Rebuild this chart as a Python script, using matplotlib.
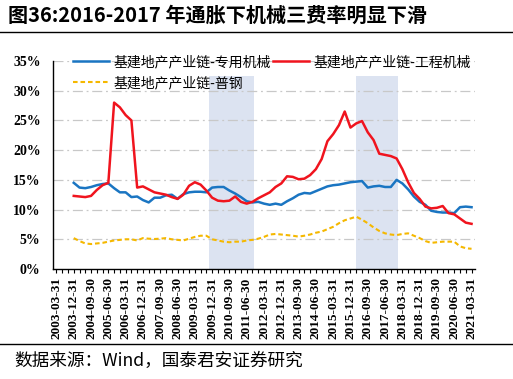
import matplotlib
matplotlib.use("Agg")
import matplotlib.pyplot as plt
import numpy as np
import pandas as pd

plt.rcParams['font.family'] = ['Noto Sans CJK SC', 'DejaVu Sans']

# quarterly dates 2003-03-31 .. 2021-03-31
dates = pd.date_range("2003-03-31", "2021-03-31", freq="QE")
tick_labels = [d.strftime("%Y-%m-%d") for d in dates[::3]]

start = 3  # series start at 2003-12-31
special_mach = [14.5, 13.7, 13.6, 13.8, 14.1, 14.3, 14.4, 13.6, 12.9, 12.9, 12.1, 12.2, 11.6, 11.2,
                12.0, 12.0, 12.4, 12.5, 11.8, 12.6, 12.9, 13.0, 13.0, 12.9, 13.7, 13.8, 13.8, 13.2,
                12.7, 12.1, 11.4, 11.2, 11.3, 11.0, 10.8, 11.0, 10.8, 11.4, 11.9, 12.5, 12.8, 12.7,
                13.1, 13.5, 13.9, 14.1, 14.2, 14.4, 14.6, 14.7, 14.8, 13.7, 13.9, 14.0, 13.8, 13.8,
                15.0, 14.4, 13.4, 12.2, 11.3, 10.8, 9.8, 9.6, 9.5, 9.5, 9.4, 10.4, 10.5, 10.4]
eng_mach = [12.3, 12.2, 12.1, 12.3, 13.3, 14.1, 14.5, 28.0, 27.2, 25.9, 25.0, 13.7, 13.9, 13.4,
            12.9, 12.7, 12.5, 12.1, 11.8, 12.5, 14.0, 14.6, 14.2, 13.2, 12.0, 11.5, 11.4, 11.5,
            12.2, 11.3, 11.0, 11.3, 11.9, 12.4, 12.9, 13.8, 14.4, 15.6, 15.5, 15.1, 15.2, 15.8,
            16.8, 18.5, 21.5, 22.7, 24.2, 26.5, 23.8, 24.5, 24.9, 23.0, 21.7, 19.4, 19.2, 19.0,
            18.6, 16.8, 14.6, 12.8, 11.8, 10.5, 10.2, 10.3, 10.6, 9.4, 9.2, 8.5, 7.8, 7.6]
steel = [5.2, 4.7, 4.3, 4.2, 4.3, 4.4, 4.6, 4.8, 4.9, 5.0, 5.0, 4.8, 5.2, 5.1,
         5.05, 5.1, 5.2, 5.0, 4.9, 4.8, 5.1, 5.4, 5.6, 5.6, 5.0, 4.8, 4.6, 4.5,
         4.6, 4.6, 4.8, 4.9, 5.1, 5.4, 5.8, 5.9, 5.8, 5.7, 5.6, 5.45, 5.6, 5.8,
         6.1, 6.3, 6.7, 7.1, 7.7, 8.2, 8.5, 8.8, 8.3, 7.7, 7.0, 6.4, 6.0, 5.8,
         5.7, 5.9, 6.0, 5.6, 5.2, 4.7, 4.4, 4.5, 4.6, 4.6, 4.6, 3.8, 3.5, 3.4]

names = ["基建地产产业链-专用机械", "基建地产产业链-工程机械", "基建地产产业链-普钢"]
shade_spans = [(26.5, 34.3), (52.0, 59.3)]
shade_top = 0.325

fig = plt.figure(figsize=(5.13, 3.79), dpi=100)
W, H = 513, 379
ax = fig.add_axes([53 / W, 1 - 269 / H, (475 - 53) / W, (269 - 61) / H])

x = np.arange(start, start + len(special_mach))
for a, b in shade_spans:
    ax.fill_between([a, b], 0, shade_top, color="#dce3f1", lw=0, zorder=0)

for yv in np.arange(0.05, 0.351, 0.05):
    ax.axhline(yv, color="#c8c8c8", lw=0.9, dashes=(8, 3, 1.5, 3), zorder=1)

l1, = ax.plot(x, np.array(special_mach) / 100, color="#1a75c2", lw=1.8, zorder=3)
l2, = ax.plot(x, np.array(eng_mach) / 100, color="#f0141e", lw=1.8, zorder=4)
l3, = ax.plot(x, np.array(steel) / 100, color="#f5b800", lw=1.5, ls=(0, (2.2, 1.4)), zorder=2)

ax.set_xlim(-0.6, len(dates) - 0.4)
ax.set_ylim(0, 0.35)
ax.set_yticks(np.arange(0, 0.351, 0.05))
ax.set_yticklabels([f"{int(round(v * 100))}%" for v in np.arange(0, 0.351, 0.05)],
                   family="Liberation Serif", fontweight="bold", fontsize=10)
ax.set_xticks(np.arange(0, len(dates), 3))
ax.set_xticklabels(tick_labels, rotation=90, family="Liberation Serif", fontweight="bold", fontsize=9.5)
ax.set_xticks(np.arange(0, len(dates)), minor=True)
ax.tick_params(axis="x", which="both", direction="out", length=3, width=0.8, pad=3)
ax.tick_params(axis="y", length=0, pad=9)
for s in ["top", "right"]:
    ax.spines[s].set_visible(False)
ax.spines["left"].set_linewidth(1.0)
ax.spines["bottom"].set_linewidth(1.0)

leg = fig.legend([l1, l3, l2], [names[0], names[2], names[1]], ncol=2, loc="upper left",
                 bbox_to_anchor=(66 / W, 1 - 48 / H), frameon=False, fontsize=10, borderpad=0,
                 handlelength=2.6, columnspacing=0.2, labelspacing=0.5, handletextpad=0.3)

fig.text(8 / W, 1 - 15 / H, "图36:2016-2017 年通胀下机械三费率明显下滑", fontsize=14.5,
         fontweight="bold", va="center", ha="left")
fig.add_artist(plt.Line2D([0, 1], [1 - 32 / H, 1 - 32 / H], color="black", lw=1.0))
fig.add_artist(plt.Line2D([0, 1], [1 - 344 / H, 1 - 344 / H], color="black", lw=1.0))
fig.text(14 / W, 1 - 361 / H, "数据来源：Wind，国泰君安证券研究", fontsize=12.7, va="center", ha="left")

fig.savefig("out.png", dpi=100)
